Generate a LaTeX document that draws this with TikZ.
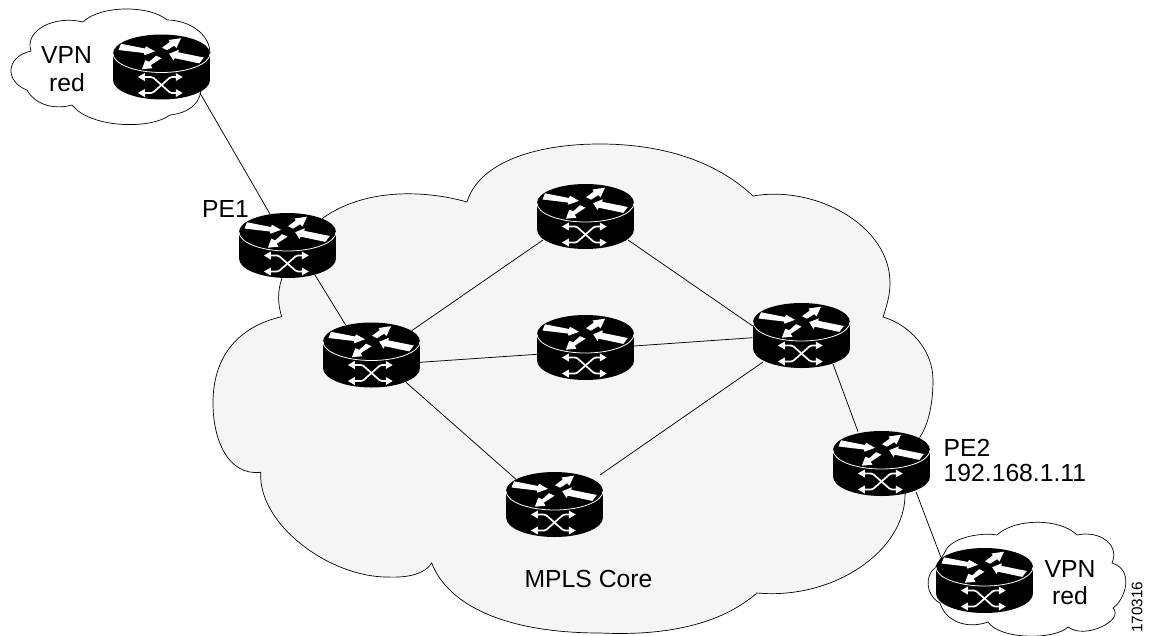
\documentclass[tikz,border=0pt]{standalone}
\usepackage{fontspec}
\setmainfont{Liberation Sans}
\usetikzlibrary{arrows.meta}
\tikzset{
  routerbox/.style={inner sep=0pt,minimum width=97pt,minimum height=65pt},
  link/.style={draw=black,line width=0.75pt},
  cloudline/.style={draw=black,line width=0.7pt},
  lbl/.style={inner sep=0pt,font=\fontsize{24.7}{27}\selectfont},
  crossarrow/.style={white,line width=1.7pt,rounded corners=1.5pt,{Triangle[length=7pt,width=7.5pt]}-{Triangle[length=7pt,width=7.5pt]}},
  router/.pic={
    \fill[black] (0,-13.5) ellipse [x radius=48.5,y radius=19];
    \fill[black] (-48.5,-13.5) rectangle (48.5,13);
    \fill[black] (0,13) ellipse [x radius=48.5,y radius=19.5];
    \draw[white,line width=0.8pt] (-48.5,-13.5) arc[start angle=180,end angle=0,x radius=48.5,y radius=19];
    \fill[white] (-40.5,-23.2) -- (-16.5,-18.5) -- (-15.5,-20.7) -- (-6.5,-15.7) -- (-17,-11.8) -- (-17.7,-14) -- (-43,-17) -- cycle;
    \fill[white] (0.5,-19.3) -- (8.3,-25) -- (7,-27) -- (19.5,-28.8) -- (15,-19) -- (12.7,-21.3) -- (5.5,-16.8) -- cycle;
    \fill[white] (42.3,-9.5) -- (16.7,-14.7) -- (17.3,-17.2) -- (7.7,-13.3) -- (12,-6.5) -- (13.3,-8.8) -- (37.8,-3.6) -- cycle;
    \fill[white] (-5.5,-11.3) -- (-12.2,-5.2) -- (-16.2,-6.8) -- (-19.6,2.2) -- (-9,1.2) -- (-10.8,-1.8) -- (0,-8.8) -- cycle;
    \draw[crossarrow] (-23.7,10) -- (-9,10) -- (9,26) -- (21.3,26);
    \draw[crossarrow] (-23.7,26) -- (-9,26) -- (9,10) -- (21.3,10);
  }
}
\begin{document}
\begin{tikzpicture}[x=1pt,y=-1pt]
\useasboundingbox (0,0) rectangle (1152,635);
% clouds
\path[cloudline,fill=black!4]
  (282,278) .. controls (277,292) and (278,305) .. (281.7,316.7)
  .. controls (245,325) and (213,350) .. (213,403)
  .. controls (213,440) and (228,476) .. (260.7,472.3)
  .. controls (258,525) and (330,577) .. (387,577)
  .. controls (408,578) and (425,574) .. (431.7,563)
  .. controls (448,605) and (505,633) .. (600,633)
  .. controls (665,636) and (720,625) .. (757,593)
  .. controls (835,600) and (905,550) .. (905,495)
  -- (920,437)
  .. controls (928,425) and (933,405) .. (933,380)
  .. controls (933,350) and (910,325) .. (883,317)
  .. controls (887,305) and (890,295) .. (890,283)
  .. controls (890,225) and (815,185) .. (753,196)
  .. controls (715,160) and (660,144) .. (600,144)
  .. controls (530,144) and (478,165) .. (467,202)
  .. controls (425,190) and (365,188) .. (323,218)
  -- cycle;
\path[cloudline,fill=white]
  (31,51) .. controls (24,30) and (55,15) .. (83,22)
  .. controls (100,5) and (150,5) .. (167,20)
  .. controls (190,20) and (210,35) .. (210,53)
  -- (200,95)
  .. controls (197,105) and (188,113) .. (170,115)
  .. controls (150,130) and (90,128) .. (72,105)
  .. controls (55,110) and (35,105) .. (27,90)
  .. controls (5,82) and (5,57) .. (31,51)
  -- cycle;
\path[cloudline,fill=white]
  (945,552) .. controls (950,538) and (980,532) .. (997,535)
  .. controls (1015,518) and (1060,518) .. (1077,535)
  .. controls (1100,530) and (1120,545) .. (1112,563)
  .. controls (1135,570) and (1125,600) .. (1113,608)
  .. controls (1125,620) and (1085,640) .. (1068,627)
  .. controls (1055,640) and (1000,640) .. (988,622)
  .. controls (965,630) and (945,620) .. (940,603)
  .. controls (925,595) and (925,575) .. (935,568)
  -- cycle;
% router anchor nodes
\node[routerbox] (vpnA) at (161.5,67) {};
\node[routerbox] (pea) at (287.5,245.5) {};
\node[routerbox] (pleft) at (371.5,355) {};
\node[routerbox] (ptop) at (585.5,216.5) {};
\node[routerbox] (pmid) at (585.5,347.5) {};
\node[routerbox] (pright) at (801.5,335.5) {};
\node[routerbox] (pbot) at (554.5,504.5) {};
\node[routerbox] (peb) at (881.5,463.5) {};
\node[routerbox] (vpnB) at (984.5,580.5) {};
% connectors
\draw[link] ([shift={(38.5,26)}]vpnA.center) -- ([shift={(-17.5,-31.5)}]pea.center);
\draw[link] ([shift={(27.5,29.5)}]pea.center) -- ([shift={(-25.8,-30)}]pleft.center);
\draw[link] ([shift={(40.2,-24.3)}]pleft.center) -- ([shift={(-42.5,23.5)}]ptop.center);
\draw[link] ([shift={(48.5,7.3)}]pleft.center) -- ([shift={(-48.5,6.8)}]pmid.center);
\draw[link] ([shift={(34.5,27.3)}]pleft.center) -- ([shift={(-38.5,-25.2)}]pbot.center);
\draw[link] ([shift={(42.5,23.5)}]ptop.center) -- ([shift={(-48.8,-9.5)}]pright.center);
\draw[link] ([shift={(48.5,-1.5)}]pmid.center) -- ([shift={(-48.8,2.2)}]pright.center);
\draw[link] ([shift={(45.5,-29.5)}]pbot.center) -- ([shift={(-38.5,26.5)}]pright.center);
\draw[link] ([shift={(31.5,28.5)}]pright.center) -- ([shift={(-23.5,-31.8)}]peb.center);
\draw[link] ([shift={(34.5,28.2)}]peb.center) -- ([shift={(-43.8,-23.8)}]vpnB.center);
% routers
\foreach \r in {vpnA,pea,pleft,ptop,pmid,pright,pbot,peb,vpnB}{
  \pic at (\r.center) {router};
}
% labels
\node[lbl] (l1) at (66.5,55.5) {VPN};
\node[lbl] (l2) at (67,82.5) {red};
\node[lbl,anchor=west] (l3) at (202,208.5) {PE1};
\node[lbl,anchor=west] (l4) at (943.5,447.5) {PE2};
\node[lbl,anchor=west] (l5) at (943.5,472.5) {192.168.1.11};
\node[lbl] (l6) at (588.5,579) {MPLS Core};
\node[lbl] (l7) at (1070,568.5) {VPN};
\node[lbl] (l8) at (1070,595.5) {red};
\node[inner sep=0pt,font=\fontsize{15.3}{17}\selectfont,rotate=90] (l9) at (1137,607) {170316};
\end{tikzpicture}
\end{document}
